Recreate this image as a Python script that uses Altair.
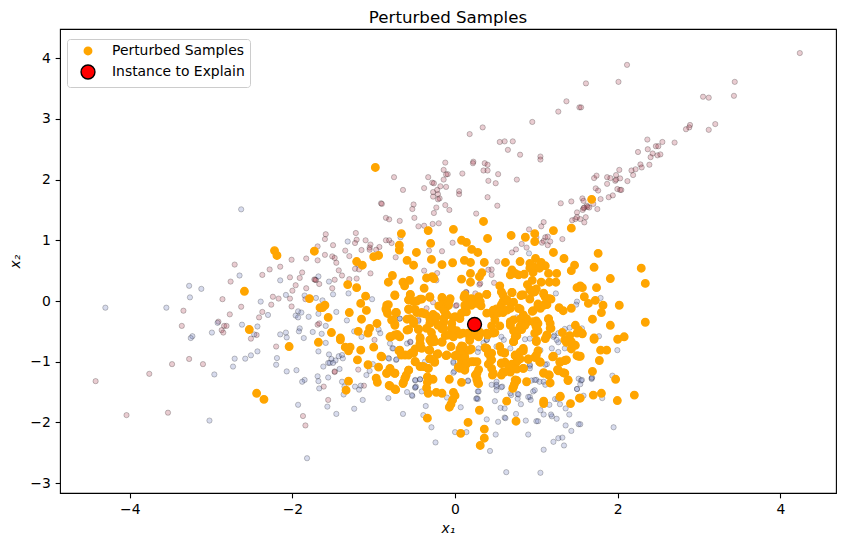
import altair as alt
import pandas as pd

red_points = [
(-2.71,0.60),(-2.76,0.32),(-2.86,0.03),(-3.34,-0.16),(-2.63,-0.095),(-2.77,-0.22),(-2.91,-0.34),(-3.36,-0.41),
(-2.84,-0.41),(-2.81,-0.41),(-2.87,-0.48),(-2.85,-0.52),(-2.44,-0.56),(-2.51,-0.62),(-2.41,-0.27),(-2.37,-0.18),
(-2.26,-0.06),(-2.24,0.07),(-2.17,0.04),(-2.03,0.04),(-2.0,0.17),(-1.96,0.26),(-1.83,0.21),(-2.37,0.43),
(-2.28,0.52),(-2.15,0.565),(-2.01,0.68),(-1.83,0.70),(-1.69,0.67),(-1.69,0.90),(-1.88,0.47),(-2.03,0.39),
(-1.91,0.38),(-1.73,0.355),(-1.71,0.345),(-1.72,0.35),(-1.84,0.03),(-2.01,-0.09),(-1.69,-0.39),(-1.67,-0.37),(-1.67,0.28),
(-4.42,-1.32),(-3.76,-1.20),(-3.48,-1.04),(-3.27,-0.955),(-3.10,-1.04),(-4.04,-1.88),(-3.53,-1.84),(-2.20,-0.75),
(-1.87,-1.895),(-1.84,-2.05),
(1.37,3.29),(1.27,3.12),(1.53,3.19),(0.95,2.95),(0.34,2.86),(0.18,2.75),(0.55,2.62),(0.61,2.63),(0.71,2.63),
(0.65,2.49),(0.80,2.41),(1.05,2.38),(1.05,2.33),(0.225,2.295),(0.22,2.27),(0.365,2.27),(0.40,2.245),(-0.12,2.28),
(-0.14,2.16),(-0.09,2.09),(-0.11,2.085),(0.09,2.10),(0.35,2.15),(0.40,2.15),(0.53,2.09),(0.76,2.0),(-0.14,2.0),
(-0.33,2.04),(-0.75,2.04),(0.41,1.98),(0.50,1.94),(-0.28,1.95),(-0.26,1.94),
(-0.64,1.83),(-0.38,1.86),(-0.27,1.795),(-0.22,1.83),(-0.11,1.88),(-0.18,1.89),(-0.27,1.72),(-0.21,1.76),(-0.19,1.69),
(-0.21,1.675),(0.05,1.81),(0.05,1.76),(0.40,1.71),(-0.91,1.61),(-0.90,1.60),(-0.51,1.59),(-0.525,1.515),(-0.23,1.54),
(-0.12,1.58),(-0.07,1.50),(-0.26,1.45),(0.52,1.57),(0.26,1.44),(-0.85,1.37),(-0.81,1.345),(-0.68,1.32),(-0.50,1.37),
(-0.45,1.23),(-0.38,1.24),(-0.275,1.27),(-0.20,1.28),(1.30,1.61),(1.43,1.64),(1.50,1.46),(1.44,1.33),(1.48,1.35),(1.50,1.38),
(1.09,1.30),(1.06,1.23),(0.91,1.18),(1.0,1.05),(1.11,1.05),(1.14,1.06),(1.09,0.99),(1.17,0.98),(1.14,0.92),(1.07,0.96),
(1.32,1.02),(0.82,0.94),(0.88,0.88),(0.70,0.80),(0.75,0.85),(-1.59,1.10),(-1.60,1.02),(-1.50,0.92),
(-1.22,1.12),(-1.21,1.01),(-1.10,1.0),(-1.04,0.93),(-1.23,0.955),(-1.15,0.84),(-1.35,0.83),(-1.05,0.88),(-0.93,0.89),
(-0.85,1.0),(-0.81,1.0),(-0.78,0.955),(-1.05,0.845),(-0.97,0.845),(-0.73,0.72),(-1.30,0.74),(-0.16,0.82),(-0.32,0.83),(-0.03,0.96),
(-1.60,0.76),(-1.51,0.735),(-1.48,0.71),(-1.46,0.63),(-1.43,0.505),(-1.39,0.42),(-1.23,0.53),(-1.18,0.52),(-1.20,0.61),
(-1.04,0.455),(-1.48,0.35),(-1.51,0.21),(-1.30,0.36),(-1.21,0.37),(-0.38,0.50),(-0.22,0.46),(-0.23,0.34),
(0.31,0.29),(0.30,0.27),(0.45,0.52),(0.52,0.65),(0.45,0.43),(0.48,0.30),(0.41,0.515),(0.14,0.14),(0.25,0.125),
(-0.27,-0.02),(0.01,-0.08),(-0.55,-0.68),(-0.99,-0.64),(-1.48,-1.16),(-1.48,-1.17),(-1.19,-1.13),(-1.615,-1.41),(-1.12,-1.395),(-1.56,-1.63),
(4.24,4.085),(2.115,3.89),(2.01,3.61),(1.61,3.585),(3.44,3.61),(1.55,3.19),(3.05,3.365),(3.12,3.35),(3.43,3.38),
(3.20,2.915),(3.12,2.82),(2.89,2.90),(2.88,2.86),(2.84,2.83),(2.365,2.66),(2.55,2.62),(2.70,2.61),(2.47,2.55),(2.50,2.55),
(2.37,2.50),(2.25,2.455),(2.43,2.43),(2.405,2.37),(2.49,2.40),(2.525,2.415),(2.39,2.245),(2.28,2.25),(2.295,2.20),
(2.22,2.17),(2.17,2.15),(2.19,2.075),(2.02,2.16),(1.98,2.075),(2.03,2.02),(2.12,1.975),(1.71,2.025),(1.74,2.065),
(1.87,2.04),(1.91,2.025),(1.97,1.98),(1.98,2.0),(1.87,1.93),
(1.73,1.856),(1.76,1.82),(1.996,1.845),(2.03,1.83),(2.045,1.83),(1.566,1.69),(1.58,1.65),(1.79,1.68),(1.89,1.71),(1.94,1.74),
(1.75,1.515),(1.70,1.60),(1.65,1.54),(1.62,1.57),(1.63,1.55),(1.58,1.53),(1.57,1.50),(1.59,1.54),(1.607,1.38),(1.59,1.295),(1.54,1.35),
(-0.45,-0.31),(-0.35,-0.12),(0.02,-0.07),(0.135,0.15),
]
blue_points = [
(-2.63,1.51),(-3.27,0.25),(-3.12,0.20),(-3.26,0.06),(-4.30,-0.11),(-3.55,-0.11),(-2.65,0.42),(-2.92,-0.36),(-2.99,-0.52),
(-3.23,-0.58),(-3.25,-0.61),(-2.62,-0.39),(-2.43,-0.42),(-2.47,-0.55),(-2.30,-0.23),(-2.39,-0.01),(-2.08,0.10),(-2.15,0.34),
(-1.85,0.09),(-1.71,0.05),(-1.93,-0.17),(-1.89,-0.19),(-1.96,-0.24),(-1.93,-0.27),(-1.80,-0.26),(-1.68,-0.21),(-1.91,-0.45),
(-1.92,-0.50),(-1.75,-0.51),(-2.15,-0.55),(-2.08,-0.52),(-2.07,-0.60),(-1.86,-0.61),(-1.68,0.405),
(-3.02,-1.97),(-2.96,-1.21),(-2.73,-1.08),(-2.71,-0.95),(-2.58,-0.95),(-2.51,-0.895),(-2.43,-0.83),(-2.19,-0.94),(-2.20,-1.05),
(-2.07,-1.16),(-1.95,-1.14),(-1.85,-1.30),(-1.88,-1.33),(-1.69,-1.24),(-1.68,-1.32),(-1.67,-1.44),(-1.93,-1.71),(-1.82,-2.59),(-1.68,-0.83),
(-1.32,0.98),(-0.67,1.05),(0.91,0.785),(-1.55,0.32),(-1.50,0.11),(-1.31,0.125),(-1.02,0.03),(-1.63,0.01),(-1.46,-0.18),(-1.33,-0.32),(-1.59,-0.41),
(-1.64,-0.54),(-1.24,-0.50),(-0.94,-0.47),(-0.92,-0.53),(1.24,0.125),(1.50,-0.01),(1.49,-0.06),(-0.68,-0.29),(-0.45,-0.33),
(0.76,-0.27),(1.35,-0.46),(1.41,-0.44),(1.22,-0.57),(-1.15,-0.59),
(-1.59,-0.69),(-1.62,-1.08),(-1.55,-0.88),(-1.52,-0.955),(-1.47,-0.98),(-1.43,-0.91),(-1.39,-0.89),(-1.38,-0.945),(-1.56,-1.02),
(-1.54,-1.02),(-1.50,-1.02),(-1.42,-1.12),(-1.56,-1.26),(-1.09,-1.22),(-1.01,-1.04),(-1.05,-1.15),(-1.39,-1.33),(-1.36,-1.41),
(-1.37,-1.54),(-1.23,-1.41),(-1.16,-1.395),(-1.18,-1.46),(-1.135,-1.63),(-1.57,-1.74),(-1.24,-1.775),(-1.46,-1.86),(-0.82,-1.60),
(-0.64,-1.86),(-0.59,-1.50),(-0.525,-1.565),(-0.49,-1.31),(-0.43,-1.29),(-0.49,-1.43),(-0.48,-1.41),(-0.81,-0.95),(-0.725,-0.97),(-0.77,-0.78),
(-0.36,-1.73),(-0.39,-1.88),(-0.29,-2.08),(-0.24,-2.33),(-0.10,-1.59),(0.07,-1.75),(0.0,-2.16),(0.14,-2.16),(0.28,-1.49),(0.26,-1.61),(0.28,-1.615),
(0.39,-1.95),(0.50,-2.20),(0.43,-2.47),(0.63,-2.82),(1.05,-2.83),(0.90,-2.20),(1.09,-2.45),(1.21,-2.32),(1.27,-2.26),(1.32,-2.25),(1.34,-2.38),
(1.43,-2.14),(1.36,-2.05),(1.52,-2.03),(0.87,-1.97),(1.0,-1.98),(1.02,-1.98),(0.53,-1.99),(0.61,-1.92),(0.62,-1.93),(0.56,-1.76),(0.61,-1.77),
(0.49,-1.65),(0.75,-1.86),(0.81,-1.70),(0.77,-1.53),(0.77,-1.61),(0.69,-1.55),(0.92,-1.58),(0.93,-1.63),(0.96,-1.49),(1.05,-1.80),(1.09,-1.87),
(1.16,-1.71),(1.19,-1.90),(1.25,-1.94),(1.18,-1.87),(1.405,-1.87),(1.36,-1.77),(1.29,-1.70),(1.23,-1.615),(1.26,-1.615),(0.45,-1.38),(0.51,-1.33),
(0.51,-1.41),(0.58,-1.41),(0.94,-1.31),(1.0,-1.30),(1.09,-1.33),(1.50,-1.45),(1.52,-1.28),(-0.01,-1.16),(0.29,-0.78),(0.35,-0.69),(1.13,-1.04),
(0.92,-1.07),(-0.02,-1.02),(1.27,-0.68),(0.16,-1.32),(0.39,-0.64),(0.60,-0.64),
(1.79,0.05),(1.56,-0.45),(1.77,-0.58),(1.996,-0.81),(1.935,-1.23),(1.685,-1.26),(1.68,-1.285),(1.55,-1.31),(1.54,-1.37),(1.58,-1.56),(1.81,-1.60),(1.54,-2.03),(1.95,-2.08),
(1.25,-0.64),(1.21,-0.59),(1.27,-0.53),(0.86,-0.63),(0.92,-0.62),(0.68,-0.78),(0.57,-0.59),(1.19,-0.78),(1.35,-0.78),(1.05,-0.81),(1.27,-0.84),
(0.92,-1.05),(0.92,-1.11),(1.11,-1.05),(0.98,-1.30),(1.04,-1.33),(1.11,-1.38),(1.56,-1.30),(1.50,-1.45),(1.68,-1.27),(0.98,-1.47),(0.90,-1.58),(0.78,-1.54),(0.68,-1.52),(0.57,-1.42),
(-0.68,-0.29),(-0.76,-0.78),(-0.80,-0.70),(-0.59,-0.70),(-0.55,-0.67),(-0.82,-0.94),(-0.72,-0.96),(-0.37,-1.0),(-0.49,-1.30),(-0.43,-1.29),(-0.49,-1.42),(-0.41,-1.49),(-0.53,-1.55),
(0.28,-0.84),(0.39,-0.64),(0.51,-0.75),(-0.02,-1.0),(-0.02,-1.18),(0.16,-1.31),(0.29,-1.49),(0.27,-1.60),(0.51,-1.38),(0.51,-1.47),
]
orange_points = [
(-2.22,0.83),(-2.19,0.75),(-1.73,0.82),(-2.59,0.16),(-1.79,0.04),(-2.53,-0.47),(-1.66,-0.11),(-2.44,-1.52),(-2.35,-1.62),(-2.04,-0.75),(-1.68,-0.68),
(-0.98,2.20),(-0.66,1.11),(-0.33,1.16),(-0.02,1.18),(0.35,1.31),(0.40,1.03),(0.69,1.08),(0.865,1.05),(0.98,1.11),(0.98,0.98),(1.21,1.16),(1.43,1.20),
(-0.685,0.92),(-0.685,0.84),(-0.30,0.95),(0.08,1.0),(0.14,0.965),(0.205,0.85),(0.28,0.80),(-0.475,0.80),(-0.94,0.75),(-1.0,0.73),(-1.21,0.65),(-1.14,0.59),
(-0.59,0.67),(-0.51,0.59),(-0.29,0.685),(-0.16,0.60),(-0.03,0.63),(0.115,0.67),(0.19,0.635),(0.36,0.635),(0.62,0.635),(0.80,0.65),(1.21,0.80),(1.34,0.70),
(0.99,0.70),(1.06,0.635),(0.92,0.62),(1.11,0.58),(0.98,0.555),(0.92,0.54),(1.47,0.59),(1.43,0.50),(0.70,0.51),(0.74,0.455),(0.68,0.43),(0.78,0.43),(0.85,0.44),
(0.96,0.47),(1.04,0.54),(1.15,0.455),(1.25,0.455),(-0.77,0.42),(-0.82,0.31),(-0.64,0.31),(-0.56,0.34),(-0.62,0.25),(-0.35,0.38),(-0.28,0.40),(-0.26,0.37),(0.08,0.36),
(0.19,0.455),(0.33,0.465),(0.30,0.40),(0.19,0.31),(-1.32,0.27),(-1.21,0.22),(-0.38,0.21),(0.55,0.25),(0.95,0.34),(0.89,0.27),(1.06,0.31),(1.16,0.31),(1.24,0.31),
(0.92,0.19),(1.0,0.20),(0.95,0.14),(1.50,0.22),(-0.74,0.09),(-1.10,0.08),(-1.16,-0.04),(-1.09,-0.155),(-1.30,-0.19),(-1.56,-0.27),(-1.15,-0.30),(-1.60,-0.07),(-1.63,-0.11),
(0.39,0.11),(0.59,0.10),(0.70,0.14),(0.81,0.09),(0.84,0.10),(1.09,0.11),(1.11,0.06),(1.18,0.03),(-0.55,0.11),(-0.57,0.02),(-0.47,0.0),(-0.41,0.03),(-0.31,0.06),
(-0.16,0.06),(-0.07,0.0),(-0.20,-0.08),(-0.11,-0.095),(0.11,0.06),(0.18,0.015),(0.29,0.06),(0.26,-0.04),(0.32,-0.08),
(0.635,0.0),(0.72,-0.02),(0.57,-0.06),(0.68,-0.12),(0.59,-0.19),(0.51,-0.13),(0.47,-0.22),(0.80,-0.13),(0.96,-0.16),(1.02,-0.05),(1.13,-0.06),(1.05,-0.12),
(1.28,-0.11),(1.33,-0.16),(1.43,-0.12),(-0.82,-0.06),(-0.85,-0.13),(-0.83,-0.205),(-0.72,-0.19),(-0.57,-0.13),(-0.41,-0.19),(-0.47,-0.19),(-0.12,-0.19),(-0.27,-0.22),(-0.02,-0.27),(0.12,-0.16),
(-0.78,-0.315),(-0.96,-0.37),(-1.05,-0.45),(-1.19,-0.50),(-1.07,-0.53),(-1.52,-0.52),(-1.41,-0.61),(-0.74,-0.38),(-0.71,-0.55),(-0.79,-0.59),
(-0.59,-0.30),(-0.51,-0.33),(-0.59,-0.48),(-0.45,-0.46),(-0.35,-0.45),(-0.43,-0.60),(-0.25,-0.33),(-0.14,-0.35),(-0.04,-0.44),(-0.16,-0.46),(-0.29,-0.52),(-0.12,-0.57),(0.02,-0.49),(-0.27,-0.61),
(0.06,-0.55),(0.18,-0.60),(0.31,-0.52),(0.45,-0.41),(0.55,-0.41),(0.68,-0.38),(0.80,-0.30),(0.88,-0.35),(1.0,-0.33),(0.995,-0.41),(1.15,-0.30),(1.18,-0.45),(1.02,-0.49),
(0.72,-0.49),(0.82,-0.47),(0.76,-0.57),(0.49,-0.52),(0.40,-0.56),(1.13,-0.57),(1.32,-0.52),(1.41,-0.57),
(-1.31,-1.32),(-1.34,-1.47),(-1.16,-0.81),(-1.35,-0.76),(-1.29,-0.76),(-1.31,-0.82),(-1.0,-0.76),(-0.91,-0.91),(-1.20,-0.97),(-1.07,-1.05),(-0.94,-1.09),
(-0.80,-1.12),(-0.74,-1.19),(-0.84,-1.19),(-0.57,-1.14),(-0.60,-1.22),(-0.97,-1.27),(-0.955,-1.34),(-0.635,-1.34),(-0.615,-1.27),(-0.81,-1.39),(-0.73,-1.46),
(-0.69,-0.82),(-0.615,-0.89),(-0.53,-0.85),(-0.49,-0.79),(-0.49,-1.0),(-0.43,-1.08),(-0.33,-1.11),(-0.32,-0.81),(-0.22,-0.88),(-0.11,-0.90),(-0.25,-1.01),(-0.31,-0.955),
(-0.34,-1.25),(-0.27,-1.29),(-0.34,-1.34),(-0.35,-1.43),(-0.33,-1.52),(-0.23,-1.505),(-0.16,-1.52),(-0.07,-1.29),(0.08,-1.34),(-0.02,-1.505),(0.0,-1.56),(-0.03,-1.63),(-0.05,-1.70),(-0.07,-1.75),
(0.30,-1.80),(0.16,-2.0),(0.36,-2.11),(0.07,-2.18),(0.36,-2.26),(0.31,-2.38),(-0.34,-1.93),(0.75,-1.98),(0.635,-1.65),(1.09,-1.65),(1.09,-1.69),(1.295,-1.57),(1.42,-1.69),(1.53,-1.60),
(0.88,-1.33),(1.17,-1.35),(1.39,-1.30),(1.09,-1.19),(1.15,-1.22),(1.35,-1.19),(1.27,-1.15),(0.76,-1.31),(0.73,-1.37),(0.71,-1.44),(0.29,-1.13),(0.25,-1.22),(0.27,-1.28),(0.28,-1.35),(0.46,-1.22),
(0.41,-1.04),(0.44,-0.955),(0.41,-0.87),(0.39,-0.79),(0.08,-1.01),(0.12,-1.12),(0.04,-1.09),(0.14,-1.04),(0.23,-1.0),(0.06,-0.79),(0.14,-0.82),(0.20,-0.79),(0.0,-0.90),(0.06,-0.93),
(0.57,-1.02),(0.59,-1.17),(0.68,-1.17),(0.615,-1.01),(0.70,-1.04),(0.76,-1.12),(0.84,-1.11),(0.90,-0.955),(0.80,-0.955),(0.74,-0.90),(0.84,-0.82),
(0.98,-0.93),(1.05,-1.01),(1.02,-0.82),(0.55,-0.75),(0.61,-0.85),(0.72,-0.67),(1.0,-0.67),(1.21,-0.91),(1.29,-1.01),(1.35,-0.98),(1.26,-1.13),(1.43,-0.79),(1.50,-0.90),(1.37,-0.68),
(-0.43,-0.71),(-0.29,-0.68),(-0.16,-0.68),(-0.05,-0.75),(0.08,-0.74),(0.18,-0.65),(0.37,-0.77),(-1.41,-0.64),
(1.68,1.675),(1.76,0.785),(1.71,0.555),(2.29,0.54),(2.34,0.29),(1.91,0.37),(1.74,0.22),(1.54,0.25),(1.566,0.22),(1.59,0.07),(1.725,0.01),(1.64,-0.04),(1.82,-0.07),(2.02,-0.07),
(1.80,-0.19),(1.69,-0.30),(1.91,-0.40),(2.34,-0.35),(1.566,-0.54),(1.71,-0.61),(2.0,-0.63),(2.08,-0.59),
(1.79,-0.81),(1.865,-0.81),(1.54,-0.91),(1.775,-0.98),(1.69,-1.16),(1.975,-1.29),(1.80,-1.52),(1.70,-1.55),(1.54,-1.60),(1.996,-1.64),(2.205,-1.55),
]
orange_center_left = [
(-0.74,0.10),(-0.55,0.10),(-0.57,0.02),(-0.43,0.03),(-0.51,-0.01),(-0.31,0.07),(-0.57,-0.14),(-0.49,-0.14),(-0.84,-0.07),(-0.84,-0.16),(-0.73,-0.19),
(-0.76,-0.31),(-0.74,-0.40),(-0.55,-0.29),(-0.51,-0.37),(-0.57,-0.47),(-0.45,-0.47),(-0.41,-0.20),(-0.37,-0.21),(-0.31,-0.29),(-0.31,-0.37),(-0.23,-0.26),(-0.14,-0.29),(-0.10,-0.23),
(-0.16,0.04),(-0.12,-0.04),(-0.08,-0.07),(-0.18,-0.09),(-0.14,-0.15),(-0.06,0.04),(-0.21,-0.40),(-0.14,-0.45),(-0.04,-0.37),(-0.04,-0.48),(-0.08,-0.56),(-0.02,-0.59),
(0.08,-0.20),(0.14,-0.18),(0.0,-0.26),(0.06,-0.29),(0.12,0.10),(0.20,0.04),(0.29,0.07),(0.31,-0.01),(0.39,0.11),(0.20,-0.07),(0.12,-0.07),(0.47,-0.15),(0.39,-0.20),(0.53,-0.20),(0.49,-0.31),
(0.10,-0.53),(0.16,-0.53),(0.25,-0.56),(0.29,-0.59),(0.39,-0.53),(0.47,-0.53),(0.10,-0.75),(0.06,-0.84),(0.18,-0.81),(0.02,-0.89),(0.12,-0.92),(-0.10,-0.89),
(-0.31,-0.64),(-0.25,-0.67),(-0.16,-0.67),(-0.31,-0.81),(-0.43,-0.62),(-0.43,-0.70),(-0.41,-0.78),(-0.74,-0.56),(-0.80,-0.59),(-0.68,-0.59),(-0.68,-0.81),(-0.66,-0.89),(-0.51,-0.86),(-0.57,-0.89),
(-0.49,-1.0),(-0.39,-1.08),(-0.33,-1.11),(-0.31,-0.95),(-0.25,-1.0),(-0.21,-0.87),(0.06,-1.11),(0.12,-1.14),(0.20,-1.0),(0.27,-1.0),(0.27,-1.19),(0.27,-1.30),(0.29,-1.36),
(0.39,-0.78),(0.45,-0.86),(0.45,-0.97),(0.45,-1.11),(0.47,-1.19),(-0.90,-0.92),(-0.80,-1.11),(-0.84,-1.19),(-0.74,-1.19),(-0.57,-1.14),(-0.615,-1.27),(-0.64,-1.36),(-0.80,-1.40),(-0.74,-1.45),
]
orange_center_right = [
(0.57,0.15),(0.70,0.14),(0.82,0.10),(0.92,0.03),(0.98,0.15),(1.09,0.13),(1.16,0.04),(0.59,-0.01),(0.64,0.02),(0.57,-0.15),(0.64,-0.15),(0.78,-0.12),(0.84,-0.23),(0.88,-0.29),(1.09,-0.07),(1.02,-0.09),
(1.15,-0.29),(1.17,-0.37),(1.17,-0.45),(0.95,-0.17),(0.68,-0.34),(0.72,-0.31),(0.68,-0.40),(0.96,-0.34),(1.02,-0.37),(1.0,-0.42),(0.76,-0.50),(0.74,-0.59),(0.72,-0.67),(0.80,-0.42),(0.86,-0.40),
(0.98,-0.53),(1.0,-0.65),(1.13,-0.56),(1.11,-0.62),(1.35,-0.64),(1.43,-0.67),(1.50,-0.53),(1.48,-0.40),(1.52,-0.48),(1.56,-0.53),(1.48,-0.73),(1.52,-0.91),(1.71,-0.63),
(0.57,-0.84),(0.61,-0.86),(0.74,-0.89),(0.80,-0.84),(0.84,-0.78),(0.76,-1.0),(0.90,-0.96),(0.84,-1.11),(0.66,-1.07),(0.57,-1.03),(0.74,-1.11),(0.61,-1.17),(0.57,-1.22),
(1.0,-0.89),(1.04,-1.0),(1.2,-0.92),(1.37,-0.97),(1.29,-1.0),(1.27,-1.14),(1.33,-1.18),(1.39,-1.31),(1.09,-1.18),(1.16,-1.22),(0.74,-1.30),(0.72,-1.41),(1.29,-1.58),
]
instance_point = [(0.24,-0.385)]

x_ticks = [-4, -2, 0, 2, 4]
y_ticks = [-3, -2, -1, 0, 1, 2, 3, 4]
x_domain = [-4.858, 4.685]
y_domain = [-3.163, 4.481]
series_names = ["Perturbed Samples", "Instance to Explain"]


def frame(points, series):
    d = pd.DataFrame(points, columns=["x1", "x2"])
    d["series"] = series
    return d


FONT = "DejaVu Sans"
x_enc = alt.X("x1:Q", scale=alt.Scale(domain=x_domain, nice=False, zero=False),
              axis=alt.Axis(values=x_ticks, title="x₁", format="d"))
y_enc = alt.Y("x2:Q", scale=alt.Scale(domain=y_domain, nice=False, zero=False),
              axis=alt.Axis(values=y_ticks, title="x₂", format="d", titlePadding=7.5))

color_enc = alt.Color("series:N", scale=alt.Scale(domain=series_names, range=["orange", "red"]),
                      legend=alt.Legend(title=None, orient="none", legendX=7, legendY=10,
                                        fillColor="white", strokeColor="#cccccc", cornerRadius=3,
                                        padding=5, symbolOffset=8, labelOffset=16, rowPadding=4,
                                        labelFontSize=13.9, labelFont=FONT, labelColor="black",
                                        symbolStrokeWidth=1.4, symbolOpacity=1))
size_enc = alt.Size("series:N", scale=alt.Scale(domain=series_names, range=[56, 193]), legend=None)
stroke_enc = alt.Stroke("series:N", scale=alt.Scale(domain=series_names, range=["orange", "black"]), legend=None)

red = alt.Chart(frame(red_points, "red")).mark_circle(
    size=28, color="#a32a40", fillOpacity=0.24, stroke="black", strokeOpacity=0.25, strokeWidth=0.9).encode(x=x_enc, y=y_enc)
blue = alt.Chart(frame(blue_points, "blue")).mark_circle(
    size=28, color="#5869b4", fillOpacity=0.24, stroke="black", strokeOpacity=0.25, strokeWidth=0.9).encode(x=x_enc, y=y_enc)
orange = alt.Chart(frame(orange_points + orange_center_left + orange_center_right, series_names[0])).mark_circle(
    opacity=1, strokeWidth=1.4).encode(x=x_enc, y=y_enc, color=color_enc, size=size_enc, stroke=stroke_enc)
instance = alt.Chart(frame(instance_point, series_names[1])).mark_circle(opacity=1, strokeWidth=1.4).encode(
    x=x_enc, y=y_enc, color=color_enc, size=size_enc, stroke=stroke_enc)

chart = (
    alt.layer(red, blue, orange, instance)
    .properties(
        width=776, height=464,
        title=alt.TitleParams("Perturbed Samples", fontSize=16.67, font=FONT, fontWeight="normal",
                              color="black", offset=2),
        padding={"left": 52, "top": 21, "right": 1, "bottom": 47},
        autosize=alt.AutoSizeParams(type="none"),
    )
    .configure_view(stroke="black", strokeWidth=1.1)
    .configure_axis(grid=False, domain=False, tickSize=4.86, tickWidth=1.1, tickColor="black",
                    labelFont=FONT, labelFontSize=13.9, labelColor="black", labelPadding=4.86,
                    titleFont=FONT, titleFontSize=13.9, titleFontWeight="normal", titleColor="black",
                    titleFontStyle="italic", titlePadding=4.86)
)
chart.save("out.html", embed_options={"renderer": "svg", "actions": False})
